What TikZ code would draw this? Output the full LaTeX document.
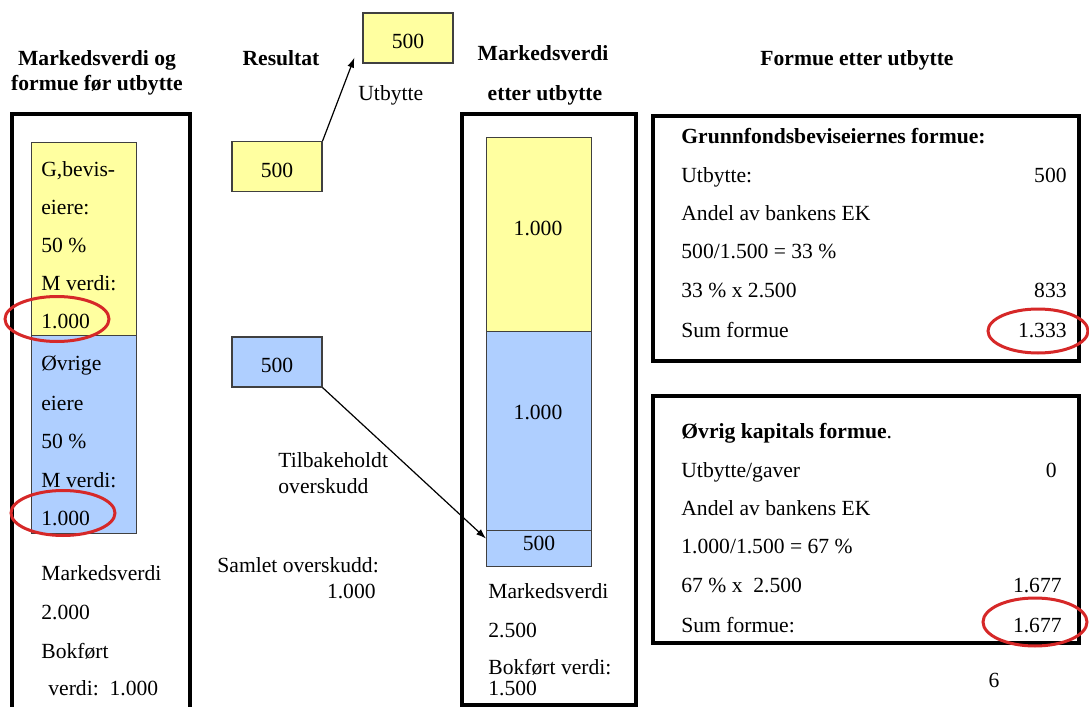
\documentclass[tikz,border=0pt]{standalone}
\usepackage{fontspec}
\setmainfont{Liberation Serif}
\usepackage{tikz}
\usetikzlibrary{shapes.geometric,arrows.meta,positioning}

\definecolor{gulfelt}{RGB}{255,255,160}
\definecolor{blaafelt}{RGB}{175,207,255}
\definecolor{ringrod}{RGB}{214,40,40}
\newcommand{\tekstfont}{\fontsize{10.8}{13}\selectfont}

\begin{document}
\begin{tikzpicture}[x=0.5pt, y=-0.5pt, font=\tekstfont,
  ramme/.style={draw, line width=2pt, anchor=north west, inner sep=0pt},
  felt/.style={draw=black!75, line width=0.6pt, anchor=north west, inner sep=0pt, minimum width=52.5pt},
  liten/.style={draw=black!75, line width=0.6pt, minimum width=45pt, minimum height=25pt, text height=11pt, inner sep=0pt},
  tekst/.style={anchor=base west, inner sep=0pt},
  tall/.style={anchor=base east, inner sep=0pt},
  midt/.style={anchor=base, inner sep=0pt},
  overskrift/.style={anchor=base, inner sep=0pt, font=\tekstfont\bfseries},
  ring/.style={draw=ringrod, line width=1.5pt, ellipse, inner sep=0pt},
  pil/.style={-{Latex[length=5pt,width=3.5pt]}, line width=0.6pt}]
\useasboundingbox (0,0) rectangle (1089,707);

% overskrifter
\node[overskrift] (hfor1) at (97,65) {Markedsverdi og};
\node[overskrift] (hfor2) at (97,90) {formue før utbytte};
\node[overskrift] (hres) at (281,65) {Resultat};
\node[overskrift] (hetter1) at (543,60) {Markedsverdi};
\node[overskrift] (hetter2) at (545,100) {etter utbytte};
\node[overskrift] (hformue) at (857,65) {Formue etter utbytte};

% før utbytte
\draw[line width=2pt] (12,712) -- (12,114) -- (190,114) -- (190,712);
\node[felt, fill=gulfelt, minimum height=96.5pt] (gbev) at (31,142) {};
\node[felt, fill=blaafelt, minimum height=99pt] (ovrig) at (31,335) {};
\foreach \y/\t [count=\i] in {176/{G,bevis-}, 214/eiere:, 252/50 \%, 290/M verdi:, 328/1.000}
  \node[tekst] (gl\i) at (41,\y) {\t};
\foreach \y/\t [count=\i] in {370/Øvrige, 410/eiere, 448/50 \%, 487/M verdi:, 525/1.000}
  \node[tekst] (ol\i) at (41,\y) {\t};
\node[tekst] (mv1) at (41,580) {Markedsverdi};
\node[tekst] (mv2) at (41,619) {2.000};
\node[tekst] (bf1) at (41,658) {Bokført};
\node[tekst] (bf2) at (48,695) {verdi:\ \ 1.000};
\node[ring, minimum width=52pt, minimum height=22.5pt] (ring1) at (57,319) {};
\node[ring, minimum width=52pt, minimum height=22.5pt] (ring2) at (63,513) {};

% resultat
\node[liten, fill=gulfelt] (resg) at (277,166.5) {500};
\node[liten, fill=blaafelt] (resb) at (277,362) {500};
\node[liten, fill=gulfelt] (utb) at (408,38) {500};
\node[tekst] (utbtxt) at (358,100) {Utbytte};
\node[tekst] (tilb1) at (278,467) {Tilbakeholdt};
\node[tekst] (tilb2) at (278,493) {overskudd};
\node[tekst] (saml) at (217,572) {Samlet overskudd:};
\node[tall] (samltall) at (376,598) {1.000};

% etter utbytte
\node[ramme, minimum width=87pt, minimum height=295.5pt] (etter) at (460,112) {};
\node[felt, fill=gulfelt, minimum height=97pt] (gbev2) at (486,137) {};
\node[felt, fill=blaafelt, minimum height=99.5pt] (ovrig2) at (486,331) {};
\node[felt, fill=blaafelt, minimum height=18pt] (rest) at (486,530) {};
\node[midt] (gtall) at (538,235) {1.000};
\node[midt] (otall) at (538,419) {1.000};
\node[midt] (rtall) at (539,550) {500};
\node[tekst] (mv3) at (488,598) {Markedsverdi};
\node[tekst] (mv4) at (488,637) {2.500};
\node[tekst] (bf3) at (488,674) {Bokført verdi:};
\node[tekst] (bf4) at (488,695) {1.500};

\draw[pil] (resg.north east) -- ([xshift=-4pt,yshift=3pt]utb.south west);
\draw[pil] (resb.south east) -- ([yshift=5pt]rest.west);

% formue etter utbytte
\node[ramme, minimum width=213pt, minimum height=122.5pt] (gfb) at (651,114) {};
\node[tekst, font=\tekstfont\bfseries] (gfbh) at (681,143) {Grunnfondsbeviseiernes formue:};
\foreach \y/\t [count=\i] in {182/Utbytte:, 220/Andel av bankens EK, 258/{500/1.500 = 33 \%}, 297/33 \% x 2.500, 337/Sum formue}
  \node[tekst] (gf\i) at (681,\y) {\t};
\node[tall] (gfv1) at (1067,182) {500};
\node[tall] (gfv2) at (1067,297) {833};
\node[tall] (gfv3) at (1067,337) {1.333};
\node[ring, minimum width=50pt, minimum height=22pt] (ring3) at (1038,331) {};

\node[ramme, minimum width=213pt, minimum height=123.5pt] (ovk) at (651,394) {};
\node[tekst] (ovkh) at (681,438) {{\bfseries Øvrig kapitals formue}.};
\foreach \y/\t [count=\i] in {477/{Utbytte/gaver}, 515/Andel av bankens EK, 553/{1.000/1.500 = 67 \%}, 592/67 \% x\ \ 2.500, 632/Sum formue:}
  \node[tekst] (ok\i) at (681,\y) {\t};
\node[tall] (okv1) at (1057,477) {0};
\node[tall] (okv2) at (1062,592) {1.677};
\node[tall] (okv3) at (1062,632) {1.677};
\node[ring, minimum width=52pt, minimum height=24pt] (ring4) at (1035,622) {};

\node[midt] (side) at (994,687) {6};
\end{tikzpicture}
\end{document}
